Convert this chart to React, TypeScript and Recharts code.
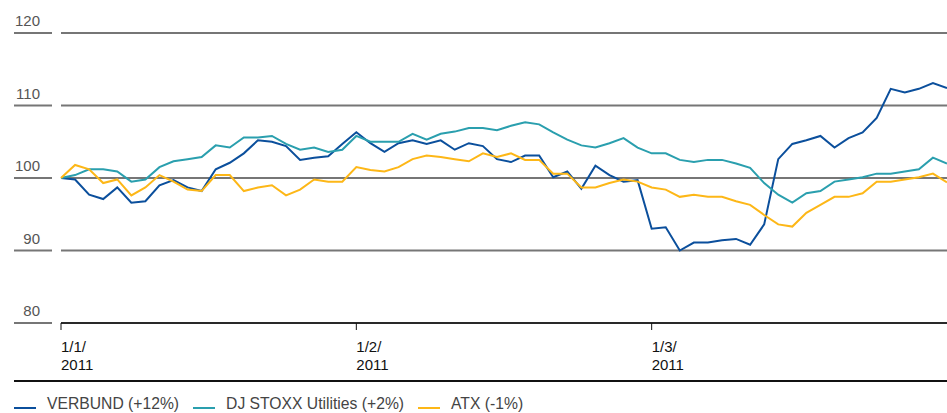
import { LineChart, Line, XAxis, YAxis, CartesianGrid } from 'recharts';

// trading days from 1 Jan 2011, index based (1/1, 1/2, 1/3 mark month starts)
const verbund = [
  100.0, 99.8, 97.7, 97.1, 98.7, 96.6, 96.8, 99.0, 99.7, 98.7,
  98.2, 101.2, 102.1, 103.4, 105.2, 105.0, 104.4, 102.5, 102.8, 103.0,
  104.7, 106.3, 104.8, 103.6, 104.8, 105.2, 104.7, 105.2, 103.9, 104.8,
  104.4, 102.6, 102.2, 103.1, 103.1, 100.1, 100.9, 98.5, 101.7, 100.4,
  99.5, 99.7, 93.0, 93.2, 90.0, 91.1, 91.1, 91.4, 91.6, 90.8,
  93.6, 102.6, 104.7, 105.2, 105.8, 104.2, 105.5, 106.3, 108.3, 112.3,
  111.8, 112.3, 113.1, 112.4,
];

const djStoxx = [
  100.0, 100.4, 101.2, 101.2, 100.9, 99.5, 99.8, 101.5, 102.3, 102.6,
  102.9, 104.5, 104.2, 105.6, 105.6, 105.8, 104.7, 103.9, 104.2, 103.6,
  103.9, 105.8, 105.0, 105.0, 105.0, 106.1, 105.3, 106.1, 106.4, 106.9,
  106.9, 106.6, 107.2, 107.7, 107.4, 106.3, 105.3, 104.5, 104.2, 104.8,
  105.5, 104.2, 103.4, 103.4, 102.5, 102.2, 102.5, 102.5, 102.0, 101.4,
  99.3, 97.7, 96.6, 97.9, 98.2, 99.5, 99.8, 100.1, 100.6, 100.6,
  100.9, 101.2, 102.8, 102.0,
];

const atx = [
  100.0, 101.8, 101.2, 99.3, 99.8, 97.6, 98.7, 100.4, 99.5, 98.4,
  98.2, 100.4, 100.4, 98.2, 98.7, 99.0, 97.6, 98.4, 99.8, 99.5,
  99.5, 101.5, 101.1, 100.9, 101.5, 102.6, 103.1, 102.9, 102.6, 102.3,
  103.4, 102.9, 103.4, 102.5, 102.5, 100.6, 100.6, 98.7, 98.7, 99.3,
  99.8, 99.5, 98.7, 98.4, 97.4, 97.7, 97.4, 97.4, 96.8, 96.3,
  94.9, 93.6, 93.3, 95.2, 96.3, 97.4, 97.4, 97.9, 99.5, 99.5,
  99.8, 100.1, 100.6, 99.4,
];

const xTicks = [0, 21, 42];
const xTickLabels = [
  ['1/1/', '2011'],
  ['1/2/', '2011'],
  ['1/3/', '2011'],
];
const yTicks = [80, 90, 100, 110, 120];

const seriesNames = ['VERBUND (+12%)', 'DJ STOXX Utilities (+2%)', 'ATX (-1%)'];
const seriesKeys = ['verbund', 'djStoxx', 'atx'];
const colors = ['#0b4f9c', '#2a9fae', '#fdb717'];

const data = verbund.map((v, i) => ({
  i,
  verbund: v,
  djStoxx: djStoxx[i],
  atx: atx[i],
}));

const FONT = '"Liberation Sans", Arial, sans-serif';
const GRID = '#767676';

const YTick = ({ y, payload }: any) => (
  <g>
    <text x={40} y={y - 7} textAnchor="end" fontSize={15} fill="#555" fontFamily={FONT}>
      {payload.value}
    </text>
    <line x1={14} x2={52} y1={y} y2={y} stroke={GRID} strokeWidth={2} />
  </g>
);

const XTick = ({ x, y, payload }: any) => {
  const idx = xTicks.indexOf(payload.value);
  const lines = xTickLabels[idx] || [];
  return (
    <text x={x} y={y} textAnchor="start" fontSize={15} fill="#111" fontFamily={FONT}>
      <tspan x={x} dy={20}>{lines[0]}</tspan>
      <tspan x={x} dy={18}>{lines[1]}</tspan>
    </text>
  );
};

const App = () => {
  return (
    <div
      style={{
        position: 'absolute',
        left: 0,
        top: 0,
        width: 947,
        height: 413,
        background: '#fff',
        fontFamily: FONT,
      }}
    >
      <LineChart
        width={947}
        height={381}
        data={data}
        margin={{ top: 33, right: 0, bottom: 0, left: 0 }}
      >
        <CartesianGrid vertical={false} stroke={GRID} strokeWidth={2} />
        <XAxis
          dataKey="i"
          type="number"
          domain={[0, 63]}
          ticks={xTicks}
          interval={0}
          height={58}
          axisLine={{ stroke: '#111', strokeWidth: 1.5 }}
          tickLine={{ stroke: '#111' }}
          tickSize={7}
          tick={<XTick />}
        />
        <YAxis
          domain={[80, 120]}
          ticks={yTicks}
          width={61}
          axisLine={false}
          tickLine={false}
          tick={<YTick />}
        />
        {seriesKeys.map((k, n) => (
          <Line
            key={k}
            type="linear"
            dataKey={k}
            name={seriesNames[n]}
            stroke={colors[n]}
            strokeWidth={2}
            dot={false}
            isAnimationActive={false}
          />
        ))}
      </LineChart>
      <div
        style={{
          position: 'absolute',
          left: 14,
          top: 380,
          width: 933,
          borderTop: '2px solid #111',
        }}
      />
      <div
        style={{
          position: 'absolute',
          left: 14,
          top: 395,
          display: 'flex',
          alignItems: 'center',
          fontSize: 15.7,
          color: '#444',
          whiteSpace: 'nowrap',
        }}
      >
        {seriesNames.map((name, n) => (
          <div key={name} style={{ display: 'flex', alignItems: 'flex-end', marginRight: 14 }}>
            <div
              style={{
                width: 22,
                height: 2,
                background: colors[n],
                marginRight: 11,
                marginBottom: 3,
              }}
            />
            <span style={{ lineHeight: '17px' }}>{name}</span>
          </div>
        ))}
      </div>
    </div>
  );
};

export default App;
